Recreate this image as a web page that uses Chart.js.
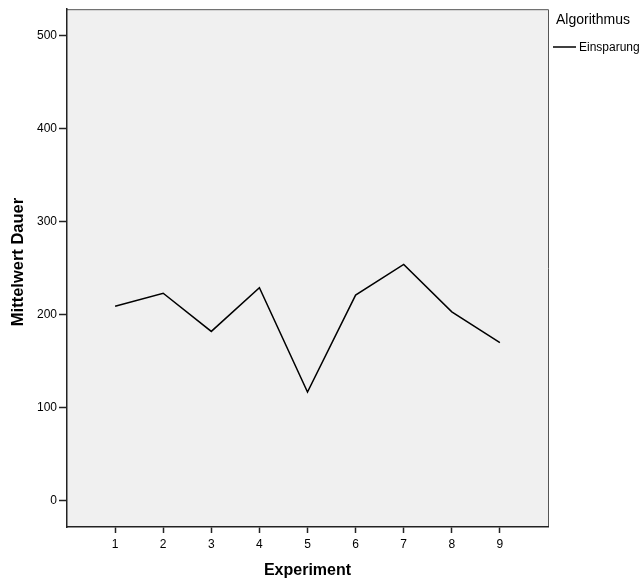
<!DOCTYPE html>
<html>
<head>
<meta charset="utf-8">
<script src="https://cdn.jsdelivr.net/npm/chart.js@4/dist/chart.umd.min.js"></script>
<style>
  html, body { margin: 0; padding: 0; background: #fff; }
  #wrap { width: 644px; height: 582px; }
</style>
</head>
<body>
<div id="wrap"><canvas id="myChart" width="644" height="582"></canvas></div>
<script>
'use strict'

// data
var experiments = [1, 2, 3, 4, 5, 6, 7, 8, 9];
var einsparung = [209, 223, 182, 229, 117, 221, 254, 203, 170];
var yTicks = [0, 100, 200, 300, 400, 500];
var seriesName = 'Einsparung';
var legendTitle = 'Algorithmus';
var yTitle = 'Mittelwert Dauer';

var FONT = "'Liberation Sans', Arial, sans-serif";

// grey plot background + thin top/right frame
var plotBg = {
    id: 'plotBg',
    beforeDraw: function (chart) {
        var a = chart.chartArea, c = chart.ctx;
        c.save();
        c.fillStyle = '#f0f0f0';
        c.fillRect(a.left, a.top, a.right - a.left, a.bottom - a.top);
        c.strokeStyle = '#555';
        c.lineWidth = 1;
        c.beginPath();
        c.moveTo(a.left, a.top + 0.5);
        c.lineTo(a.right + 0.5, a.top + 0.5);
        c.lineTo(a.right + 0.5, a.bottom);
        c.stroke();
        c.restore();
    }
};

// y title, legend in the SPSS style
var extras = {
    id: 'extras',
    afterDraw: function (chart) {
        var c = chart.ctx, x = chart.chartArea.right + 8;
        c.save();
        c.fillStyle = '#000';
        c.textBaseline = 'middle';

        c.save();
        c.translate(18, 262);
        c.rotate(-Math.PI / 2);
        c.textAlign = 'center';
        c.font = 'bold 16.5px ' + FONT;
        c.fillText(yTitle, 0, 0);
        c.restore();

        c.font = '14px ' + FONT;
        c.fillText(legendTitle, x, 20);
        chart.data.datasets.forEach(function (ds, i) {
            var y = 47 + i * 20;
            c.strokeStyle = ds.borderColor;
            c.lineWidth = 1.5;
            c.beginPath();
            c.moveTo(x - 3, y);
            c.lineTo(x + 20, y);
            c.stroke();
            c.font = '12px ' + FONT;
            c.fillText(ds.label, x + 23, y + 1);
        });
        c.restore();
    }
};

var ctx = document.getElementById('myChart').getContext('2d');

var chart = new Chart(ctx, {
    type: 'line',
    data: {
        datasets: [{
            label: seriesName,
            data: experiments.map(function (e, i) { return { x: e, y: einsparung[i] }; }),
            borderColor: '#000',
            borderWidth: 1.5,
            pointRadius: 0,
            tension: 0,
            fill: false
        }]
    },
    options: {
        responsive: false,
        animation: false,
        layout: { padding: { top: 7, right: 96, left: 0, bottom: 0 } },
        plugins: {
            legend: { display: false },
            tooltip: { enabled: false }
        },
        scales: {
            x: {
                type: 'linear',
                min: 0,
                max: 10,
                afterBuildTicks: function (axis) {
                    axis.ticks = experiments.map(function (v) { return { value: v }; });
                },
                afterFit: function (axis) { axis.height = 55; },
                grid: { display: true, drawOnChartArea: false, tickLength: 6, color: '#222', tickWidth: 1.5 },
                border: { display: true, color: '#222', width: 1.5 },
                ticks: { color: '#000', padding: 4, font: { family: FONT, size: 12 }, maxRotation: 0 },
                title: {
                    display: true,
                    text: 'Experiment',
                    color: '#000',
                    font: { family: FONT, size: 16, weight: 'bold' },
                    padding: { top: 0, bottom: 2 }
                }
            },
            y: {
                min: -28,
                max: 528,
                afterBuildTicks: function (axis) {
                    axis.ticks = yTicks.map(function (v) { return { value: v }; });
                },
                afterFit: function (axis) { axis.width = 67; },
                grid: { display: true, drawOnChartArea: false, tickLength: 8, color: '#222', tickWidth: 1.5 },
                border: { display: true, color: '#222', width: 1.5 },
                ticks: { color: '#000', padding: 2, font: { family: FONT, size: 12 } }
            }
        }
    },
    plugins: [plotBg, extras]
});
</script>
</body>
</html>
